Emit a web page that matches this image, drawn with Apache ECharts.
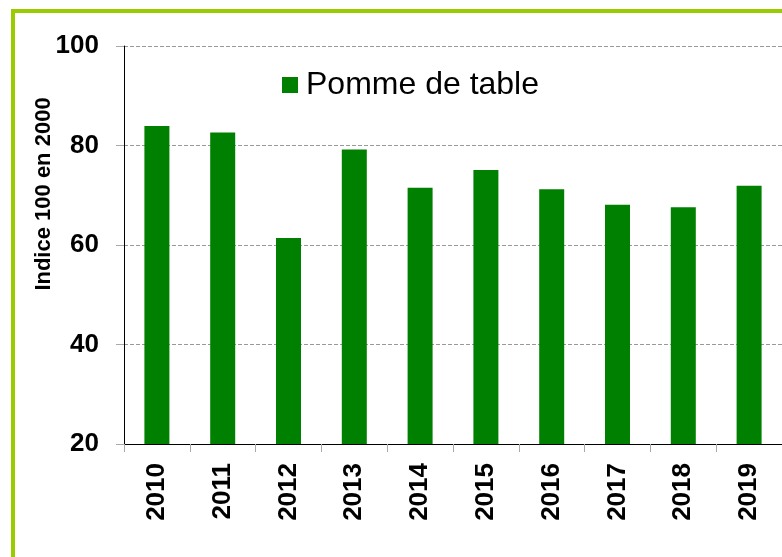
<!DOCTYPE html>
<html>
<head>
<meta charset="utf-8">
<script src="https://cdn.jsdelivr.net/npm/echarts@6/dist/echarts.min.js"></script>
<style>
html,body{margin:0;padding:0;background:#fff;}
#chart{width:782px;height:557px;}
</style>
</head>
<body>
<div id="chart"></div>
<script>
var categories = ['2010','2011','2012','2013','2014','2015','2016','2017','2018','2019'];
var seriesName = 'Pomme de table';
var values = [83.9, 82.6, 61.4, 79.2, 71.5, 75.1, 71.2, 68.1, 67.6, 71.9];
var yTicks = [20, 40, 60, 80, 100];
var yAxisTitle = 'Indice 100 en 2000';

var FONT = '"Liberation Sans", Arial, sans-serif';
var chart = echarts.init(document.getElementById('chart'), null, {renderer: 'canvas'});
chart.setOption({
  animation: false,
  backgroundColor: '#ffffff',
  grid: {left: 124, top: 46, width: 662, height: 398, containLabel: false},
  legend: {
    show: true,
    left: 282, top: 69, padding: 0,
    icon: 'rect', itemWidth: 16, itemHeight: 16, itemGap: 10,
    textStyle: {fontFamily: FONT, fontSize: 32, color: '#000', padding: [0,0,0,3]},
    data: [seriesName]
  },
  xAxis: {
    type: 'category',
    data: categories,
    boundaryGap: true,
    axisLine: {show: true, lineStyle: {color: '#000', width: 1}},
    axisTick: {show: true, length: 8, lineStyle: {color: '#aaa'}},
    axisLabel: {rotate: 90, margin: 19, fontFamily: FONT, fontWeight: 'bold', fontSize: 26, color: '#000'},
    splitLine: {show: false}
  },
  yAxis: {
    type: 'value',
    min: yTicks[0], max: yTicks[yTicks.length-1], interval: 20,
    axisLine: {show: true, lineStyle: {color: '#000', width: 1}},
    axisTick: {show: true, length: 8, lineStyle: {color: '#aaa'}},
    axisLabel: {margin: 25, fontFamily: FONT, fontWeight: 'bold', fontSize: 26, color: '#000'},
    splitLine: {show: true, lineStyle: {color: '#999', type: [4, 2], width: 1}}
  },
  series: [{
    name: seriesName,
    type: 'bar',
    data: values,
    barWidth: 25,
    itemStyle: {color: '#008000'}
  }],
  graphic: [
    {
      type: 'rect',
      shape: {x: 13, y: 11, width: 820, height: 620},
      style: {fill: null, stroke: '#99cc00', lineWidth: 4},
      silent: true
    },
    {
      type: 'text',
      x: 44, y: 194,
      rotation: Math.PI / 2,
      style: {
        text: yAxisTitle,
        fontFamily: FONT, fontWeight: 'bold', fontSize: 22, fill: '#000',
        align: 'center', verticalAlign: 'middle'
      }
    }
  ]
});
</script>
</body>
</html>
